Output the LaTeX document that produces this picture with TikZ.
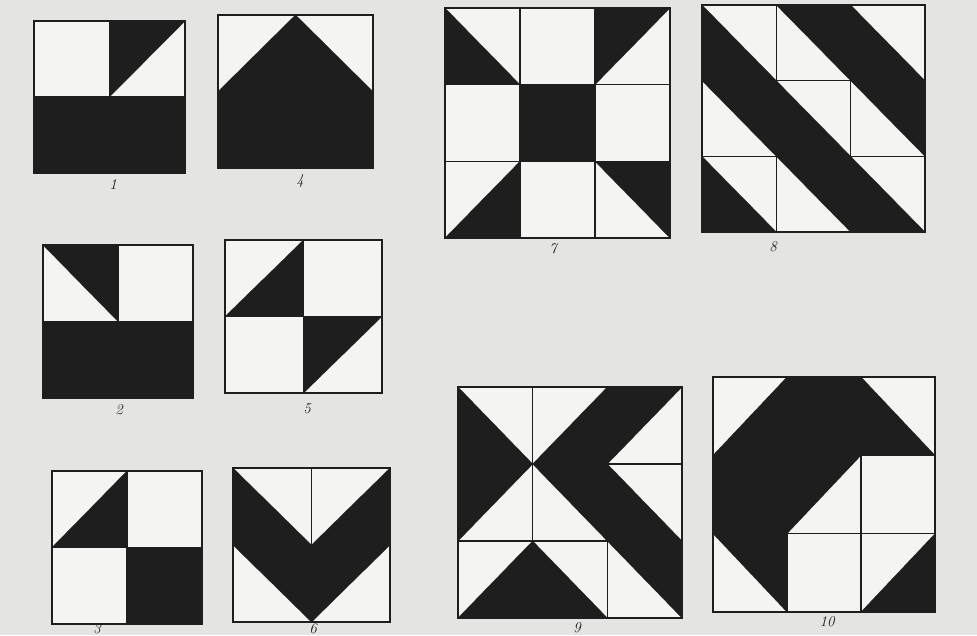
\documentclass[tikz,border=0pt]{standalone}
\definecolor{paper}{HTML}{E4E4E2}
\definecolor{sheet}{HTML}{F4F4F2}
\definecolor{ink}{HTML}{1E1E1E}
\tikzset{
  blk/.style={fill=ink, draw=ink, line width=0.3pt, line join=round},
  grd/.style={draw=ink, line width=1.1pt},
  frame/.style={draw=ink, line width=2.4pt, line join=miter},
  bg/.style={fill=sheet},
  lbl/.style={font=\fontsize{15}{15}\selectfont\itshape, text=ink, inner sep=0pt}
}
\begin{document}
\begin{tikzpicture}[x=1pt,y=-1pt]
\fill[paper] (0,0) rectangle (977,635);
\useasboundingbox (0,0) rectangle (977,635);

% ---- 1 ----
\begin{scope}[shift={(34,21)}, x={(75.5pt,0pt)}, y={(0pt,-76pt)}]
  \fill[bg] (0,0) rectangle (2,2);
  \draw[grd] (1,0) -- (1,2) (0,1) -- (2,1);
  \filldraw[blk] (1,0) -- (2,0) -- (1,1) -- cycle;
  \filldraw[blk] (0,1) rectangle (2,2);
  \draw[frame] (0,0) rectangle (2,2);
\end{scope}
\node[lbl] (l1) at (113,185) {1};

% ---- 4 ----
\begin{scope}[shift={(218,15)}, x={(77.5pt,0pt)}, y={(0pt,-76.5pt)}]
  \fill[bg] (0,0) rectangle (2,2);
  \filldraw[blk] (0,1) -- (1,0) -- (2,1) -- (2,2) -- (0,2) -- cycle;
  \draw[frame] (0,0) rectangle (2,2);
\end{scope}
\node[lbl] (l4) at (300,181) {4};

% ---- 2 ----
\begin{scope}[shift={(43,245)}, x={(75pt,0pt)}, y={(0pt,-76.5pt)}]
  \fill[bg] (0,0) rectangle (2,2);
  \draw[grd] (1,0) -- (1,2) (0,1) -- (2,1);
  \filldraw[blk] (0,0) -- (1,0) -- (1,1) -- cycle;
  \filldraw[blk] (0,1) rectangle (2,2);
  \draw[frame] (0,0) rectangle (2,2);
\end{scope}
\node[lbl] (l2) at (119,410) {2};

% ---- 5 ----
\begin{scope}[shift={(225,240)}, x={(78.5pt,0pt)}, y={(0pt,-76.5pt)}]
  \fill[bg] (0,0) rectangle (2,2);
  \draw[grd] (1,0) -- (1,2) (0,1) -- (2,1);
  \filldraw[blk] (0,1) -- (1,0) -- (1,1) -- cycle;
  \filldraw[blk] (1,1) -- (2,1) -- (1,2) -- cycle;
  \draw[frame] (0,0) rectangle (2,2);
\end{scope}
\node[lbl] (l5) at (307,409) {5};

% ---- 3 ----
\begin{scope}[shift={(52,471)}, x={(75pt,0pt)}, y={(0pt,-76.5pt)}]
  \fill[bg] (0,0) rectangle (2,2);
  \draw[grd] (1,0) -- (1,2) (0,1) -- (2,1);
  \filldraw[blk] (0,1) -- (1,0) -- (1,1) -- cycle;
  \filldraw[blk] (1,1) rectangle (2,2);
  \draw[frame] (0,0) rectangle (2,2);
\end{scope}
\node[lbl, anchor=south] (l3) at (97,634) {3};

% ---- 6 ----
\begin{scope}[shift={(233,468)}, x={(78.5pt,0pt)}, y={(0pt,-77pt)}]
  \fill[bg] (0,0) rectangle (2,2);
  \draw[grd] (1,0) -- (1,2) (0,1) -- (2,1);
  \filldraw[blk] (0,0) -- (1,1) -- (2,0) -- (2,1) -- (1,2) -- (0,1) -- cycle;
  \draw[frame] (0,0) rectangle (2,2);
\end{scope}
\node[lbl, anchor=south] (l6) at (313,634) {6};

% ---- 7 ----
\begin{scope}[shift={(445,8)}, x={(75pt,0pt)}, y={(0pt,-76.67pt)}]
  \fill[bg] (0,0) rectangle (3,3);
  \draw[grd] (1,0) -- (1,3) (2,0) -- (2,3) (0,1) -- (3,1) (0,2) -- (3,2);
  \filldraw[blk] (0,0) -- (1,1) -- (0,1) -- cycle;
  \filldraw[blk] (2,0) -- (3,0) -- (2,1) -- cycle;
  \filldraw[blk] (1,1) rectangle (2,2);
  \filldraw[blk] (1,2) -- (1,3) -- (0,3) -- cycle;
  \filldraw[blk] (2,2) -- (3,2) -- (3,3) -- cycle;
  \draw[frame] (0,0) rectangle (3,3);
\end{scope}
\node[lbl] (l7) at (553,249) {7};

% ---- 8 ----
\begin{scope}[shift={(702,5)}, x={(74.33pt,0pt)}, y={(0pt,-75.67pt)}]
  \fill[bg] (0,0) rectangle (3,3);
  \draw[grd] (1,0) -- (1,3) (2,0) -- (2,3) (0,1) -- (3,1) (0,2) -- (3,2);
  \filldraw[blk] (0,0) -- (3,3) -- (2,3) -- (0,1) -- cycle;
  \filldraw[blk] (1,0) -- (2,0) -- (3,1) -- (3,2) -- cycle;
  \filldraw[blk] (0,2) -- (1,3) -- (0,3) -- cycle;
  \draw[frame] (0,0) rectangle (3,3);
\end{scope}
\node[lbl] (l8) at (773,247) {8};

% ---- 9 ----
\begin{scope}[shift={(458,387)}, x={(74.67pt,0pt)}, y={(0pt,-77pt)}]
  \fill[bg] (0,0) rectangle (3,3);
  \draw[grd] (1,0) -- (1,3) (2,0) -- (2,3) (0,1) -- (3,1) (0,2) -- (3,2);
  \filldraw[blk] (0,0) -- (1,1) -- (0,2) -- cycle;
  \filldraw[blk] (2,0) -- (3,0) -- (2,1) -- (3,2) -- (3,3) -- (1,1) -- cycle;
  \filldraw[blk] (0,3) -- (1,2) -- (2,3) -- cycle;
  \draw[frame] (0,0) rectangle (3,3);
\end{scope}
\node[lbl] (l9) at (577,628) {9};

% ---- 10 ----
\begin{scope}[shift={(713,377)}, x={(74pt,0pt)}, y={(0pt,-78.33pt)}]
  \fill[bg] (0,0) rectangle (3,3);
  \draw[grd] (1,0) -- (1,3) (2,0) -- (2,3) (0,1) -- (3,1) (0,2) -- (3,2);
  \filldraw[blk] (1,0) -- (2,0) -- (3,1) -- (2,1) -- (1,2) -- (1,3) -- (0,2) -- (0,1) -- cycle;
  \filldraw[blk] (3,2) -- (3,3) -- (2,3) -- cycle;
  \draw[frame] (0,0) rectangle (3,3);
\end{scope}
\node[lbl] (l10) at (827,622) {10};
\end{tikzpicture}
\end{document}
